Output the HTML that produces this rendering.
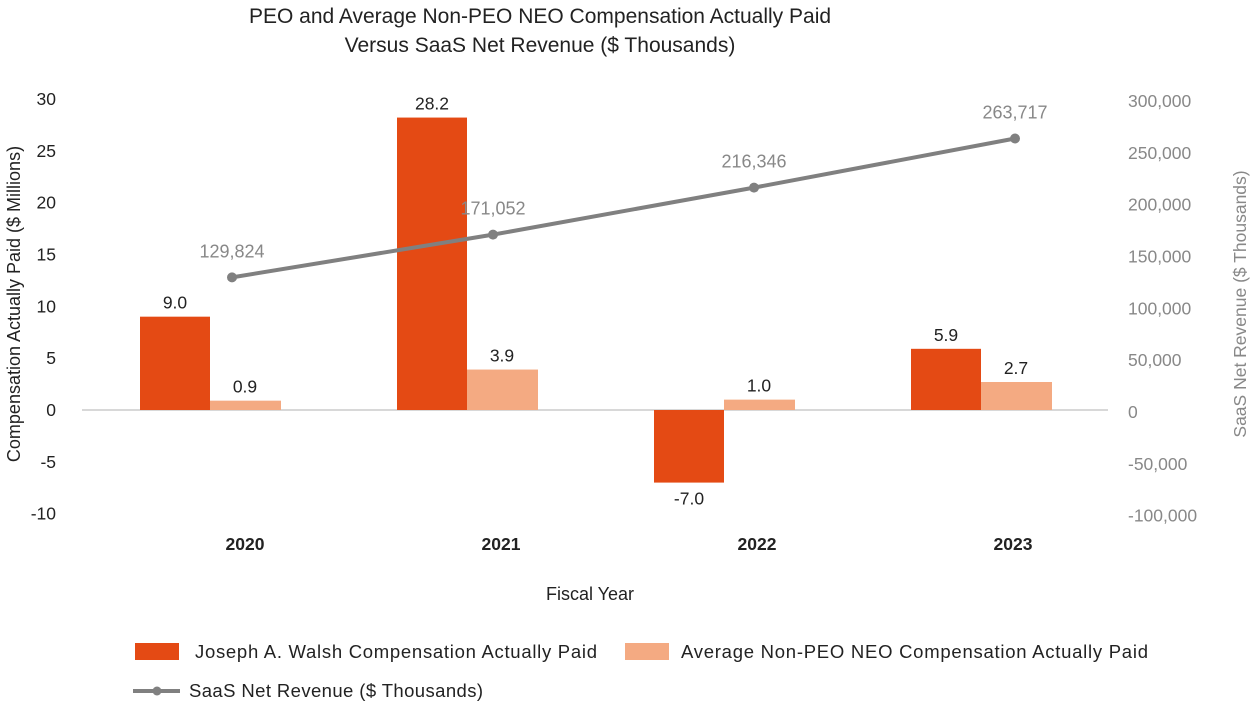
<!DOCTYPE html>
<html><head><meta charset="utf-8"><style>
body{margin:0;background:#fff;font-family:"Liberation Sans",sans-serif}
svg text{font-family:"Liberation Sans",sans-serif}
</style></head><body>
<svg width="1252" height="706">
<text x="540" y="23" font-size="21" text-anchor="middle" fill="#222">PEO and Average Non-PEO NEO Compensation Actually Paid</text>
<text x="540" y="52" font-size="21" text-anchor="middle" fill="#222">Versus SaaS Net Revenue ($ Thousands)</text>
<text transform="translate(20,304) rotate(-90)" font-size="18" text-anchor="middle" fill="#222">Compensation Actually Paid ($ Millions)</text>
<text transform="translate(1246,304) rotate(-90)" font-size="17.5" text-anchor="middle" fill="#888">SaaS Net Revenue ($ Thousands)</text>
<text x="590" y="600" font-size="18" text-anchor="middle" fill="#222">Fiscal Year</text>
<line x1="82" x2="1108" y1="410" y2="410" stroke="#ccc" stroke-width="1.5"/>
<g id="g"></g>
<rect x="135" y="643" width="44" height="17" fill="#E44A14"/>
<text x="195" y="658" font-size="18.5" fill="#222" textLength="402">Joseph A. Walsh Compensation Actually Paid</text>
<rect x="625" y="643" width="44" height="17" fill="#F4AA82"/>
<text x="681" y="658" font-size="18.5" fill="#222" textLength="467">Average Non-PEO NEO Compensation Actually Paid</text>
<line x1="133" x2="180" y1="691" y2="691" stroke="#808080" stroke-width="4"/>
<circle cx="157" cy="691" r="4.5" fill="#808080"/>
<text x="189" y="697" font-size="18.5" fill="#222" textLength="294">SaaS Net Revenue ($ Thousands)</text>
</svg>
<script>
const years=["2020","2021","2022","2023"];
const peo=[9.0,28.2,-7.0,5.9];
const neo=[0.9,3.9,1.0,2.7];
const revenue=[129824,171052,216346,263717];
const leftTicks=[30,25,20,15,10,5,0,-5,-10];
const rightTicks=[300000,250000,200000,150000,100000,50000,0,-50000,-100000];
const g=document.getElementById('g');
const NS='http://www.w3.org/2000/svg';
const y=v=>410-v*10.37;
const y2=v=>y(v/10000)+2;
const bx=i=>210+257*i;
const lx=i=>232+261*i;
function mk(t,a,txt){const e=document.createElementNS(NS,t);for(const k in a)e.setAttribute(k,a[k]);if(txt!=null)e.textContent=txt;g.appendChild(e);return e;}
leftTicks.forEach(t=>{const e=mk('text',{x:56,y:y(t)+6,'font-size':17.5,'text-anchor':'end',fill:'#222'},String(t));

});
rightTicks.forEach(t=>{const e=mk('text',{x:1128,y:y(t/10000)+8,'font-size':17.5,fill:'#888'},t.toLocaleString('en-US'));

});
years.forEach((yr,i)=>{
const e=mk('text',{x:245+256*i,y:550,'font-size':17.5,'font-weight':'bold','text-anchor':'middle',fill:'#222'},yr);


const v=peo[i];const b=mk('rect',{x:bx(i)-70,y:Math.min(y(v),y(0)),width:70,height:Math.abs(y(v)-y(0)),fill:'#E44A14'});


const l=mk('text',{x:bx(i)-35,y:v>=0?y(v)-8:y(v)+22,'font-size':17.5,'text-anchor':'middle',fill:'#222'},v.toFixed(1));


const w=neo[i];const b2=mk('rect',{x:bx(i),y:Math.min(y(w),y(0)),width:71,height:Math.abs(y(w)-y(0)),fill:'#F4AA82'});


const l2=mk('text',{x:bx(i)+35,y:y(w)-8,'font-size':17.5,'text-anchor':'middle',fill:'#222'},w.toFixed(1));


});
const p=mk('polyline',{points:revenue.map((r,i)=>lx(i)+','+y2(r)).join(' '),fill:'none',stroke:'#808080','stroke-width':4});


revenue.forEach((r,i)=>{
const c=mk('circle',{cx:lx(i),cy:y2(r),r:5,fill:'#808080'});


const t=mk('text',{x:lx(i),y:y2(r)-20,'font-size':18,'text-anchor':'middle',fill:'#888'},r.toLocaleString('en-US'));


});
</script>
</body></html>
